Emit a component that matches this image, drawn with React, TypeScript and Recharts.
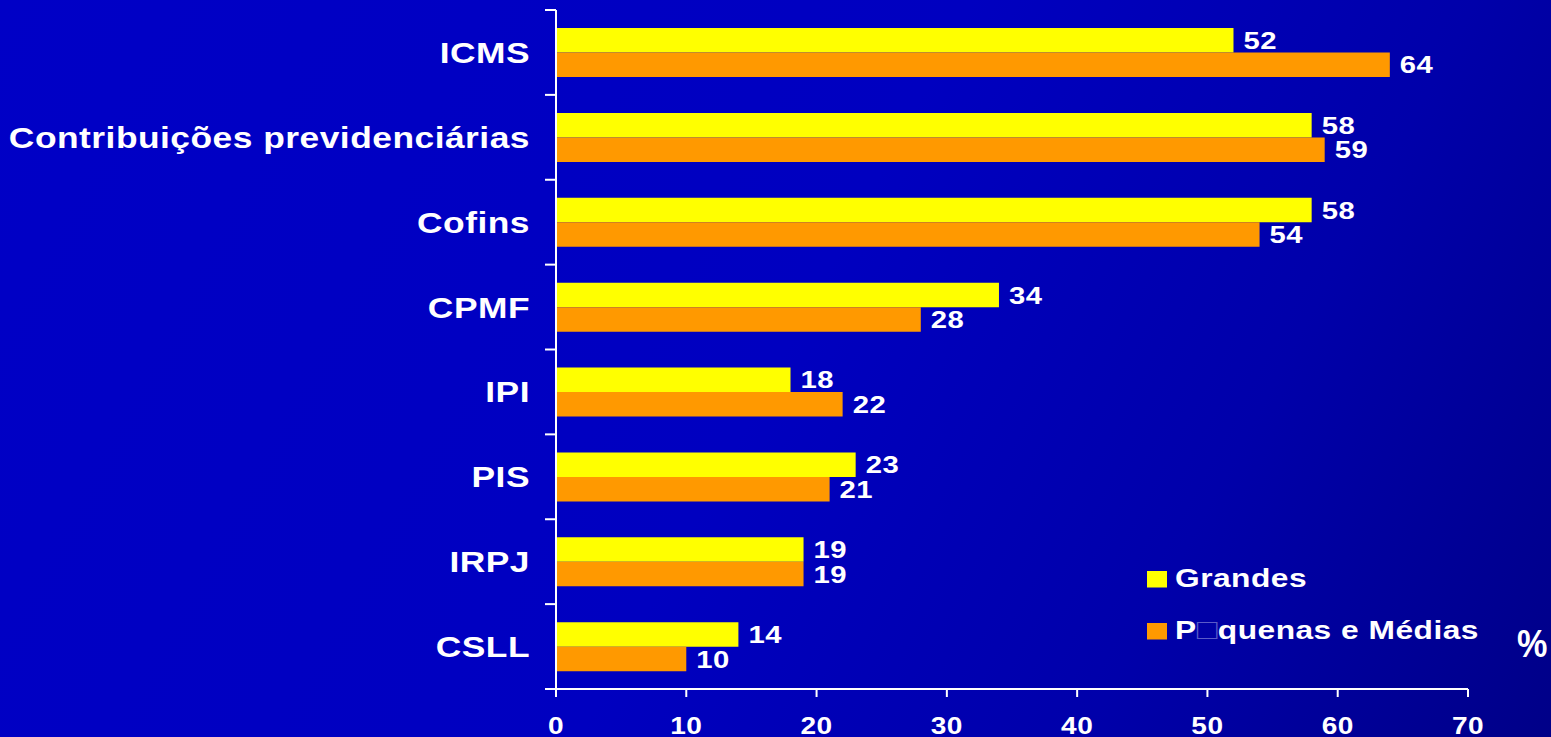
import React from "react";

// Library
import {
  BarChart,
  Bar,
  XAxis,
  YAxis,
  Legend,
  LabelList,
  Label,
} from "recharts";

const categories = [
  "ICMS",
  "Contribuições previdenciárias",
  "Cofins",
  "CPMF",
  "IPI",
  "PIS",
  "IRPJ",
  "CSLL",
];
const grandes = [52, 58, 58, 34, 18, 23, 19, 14];
const pequenasMedias = [64, 59, 54, 28, 22, 21, 19, 10];
const xTicks = [0, 10, 20, 30, 40, 50, 60, 70];

const seriesNames = ["Grandes", "P□quenas e Médias"];

const data = categories.map((name, i) => ({
  name,
  grandes: grandes[i],
  pequenasMedias: pequenasMedias[i],
}));

const W = 1551;
const H = 737;
const MARGIN_TOP = 10;
const XAXIS_H = 48;
const YAXIS_W = 556;
const BAND = (H - MARGIN_TOP - XAXIS_H) / categories.length;

const FONT = '"Liberation Sans", Arial, sans-serif';
const YELLOW = "#ffff00";
const ORANGE = "#ff9900";
// the slide text is drawn a bit wide
const SX = 1.22;

function WideText({ x, y, size, anchor = "start", dy = "0", sx = SX, children }: any) {
  return (
    <text
      transform={`translate(${x}, ${y}) scale(${sx}, 1)`}
      dy={dy}
      textAnchor={anchor}
      fill="#fff"
      fontFamily={FONT}
      fontWeight="bold"
      fontSize={size}
      letterSpacing={0.4}
    >
      {children}
    </text>
  );
}

// category label plus the small boundary ticks to the left of the axis
function CategoryTick(props: any) {
  const { x, y, payload, index } = props;
  const axisX = x + 26;
  return (
    <g>
      <line x1={axisX - 11} x2={axisX} y1={y - BAND / 2} y2={y - BAND / 2} stroke="#fff" strokeWidth={2} />
      {index === categories.length - 1 && (
        <line x1={axisX - 11} x2={axisX} y1={y + BAND / 2} y2={y + BAND / 2} stroke="#fff" strokeWidth={2} />
      )}
      <WideText x={x} y={y} size={29} anchor="end" dy="0.36em">
        {payload.value}
      </WideText>
    </g>
  );
}

function ValueTick(props: any) {
  const { x, y, payload } = props;
  return (
    <WideText x={x} y={y} size={23} anchor="middle" dy="0.71em">
      {payload.value}
    </WideText>
  );
}

function BarValue(props: any) {
  const { x, y, width, height, value } = props;
  return (
    <WideText x={x + width + 10} y={y + height / 2} size={24} dy="0.36em">
      {value}
    </WideText>
  );
}

function LegendBox() {
  const colors = [YELLOW, ORANGE];
  return (
    <svg width={380} height={90} style={{ display: "block" }}>
      {seriesNames.map((name, i) => {
        const parts = name.split("□");
        return (
          <g key={name} transform={`translate(0, ${i * 52})`}>
            <rect x={1} y={5} width={20} height={16.5} fill={colors[i]} />
            <WideText x={29} y={21} size={26}>
              {parts[0]}
              {parts.length > 1 && (
                <tspan fill="#5a5ac8" fontWeight="normal" fontSize={28}>
                  □
                </tspan>
              )}
              {parts.length > 1 && parts[1]}
            </WideText>
          </g>
        );
      })}
    </svg>
  );
}

function UnitLabel(props: any) {
  const { viewBox } = props;
  return (
    <WideText
      x={viewBox.x + viewBox.width + 49}
      y={viewBox.y - 32}
      size={38}
      sx={0.9}
    >
      %
    </WideText>
  );
}

export default function App() {
  return (
    <div
      style={{
        position: "absolute",
        left: 0,
        top: 0,
        width: W,
        height: H,
        background:
          "linear-gradient(118deg, #0000c6 0%, #0000c0 50%, #0000aa 76%, #000088 100%)",
      }}
    >
      <BarChart
        width={W}
        height={H}
        data={data}
        layout="vertical"
        margin={{ top: MARGIN_TOP, right: 83, bottom: 0, left: 0 }}
        barSize={24.5}
        barGap={0}
      >
        <XAxis
          type="number"
          domain={[0, 70]}
          ticks={xTicks}
          height={XAXIS_H}
          stroke="#fff"
          strokeWidth={2}
          tickSize={8}
          tickMargin={21}
          tick={<ValueTick />}
        >
          <Label content={<UnitLabel />} />
        </XAxis>
        <YAxis
          type="category"
          dataKey="name"
          width={YAXIS_W}
          stroke="#fff"
          strokeWidth={2}
          tickLine={false}
          tickSize={11}
          tickMargin={15}
          tick={<CategoryTick />}
          interval={0}
        />
        <Legend
          layout="horizontal"
          verticalAlign="middle"
          align="center"
          content={<LegendBox />}
          wrapperStyle={{ left: 1146, top: 566, width: 380 }}
        />
        <Bar dataKey="grandes" fill={YELLOW} isAnimationActive={false}>
          <LabelList dataKey="grandes" content={<BarValue />} />
        </Bar>
        <Bar dataKey="pequenasMedias" fill={ORANGE} isAnimationActive={false}>
          <LabelList dataKey="pequenasMedias" content={<BarValue />} />
        </Bar>
      </BarChart>
    </div>
  );
}
